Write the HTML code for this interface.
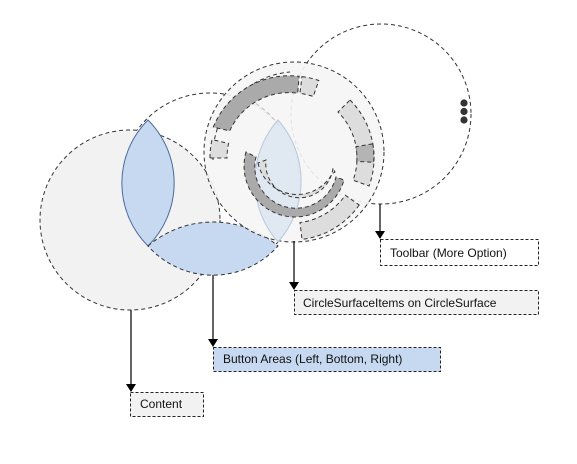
<!DOCTYPE html>
<html><head><meta charset="utf-8"><style>
body{margin:0;background:#fff;}
svg{display:block;}
text{font-family:"Liberation Sans","Noto Sans CJK KR",sans-serif;font-size:12px;fill:#111;}
</style></head><body>
<svg width="577" height="464" viewBox="0 0 577 464" xmlns="http://www.w3.org/2000/svg">
<g stroke="#333" stroke-width="1" stroke-dasharray="4,3">
<circle cx="381" cy="114" r="90" fill="#fff"/>
<circle cx="210" cy="183" r="90" fill="#fff"/>
<circle cx="130" cy="220" r="90" fill="#f2f2f2"/>
</g>
<path d="M148,120 A89,89 0 0 0 148,246 A89,89 0 0 0 148,120 Z" fill="#c6d9f0" stroke="#4a6a9a" stroke-width="1"/>
<path d="M148,246 A100,100 0 0 1 278,246 A87,87 0 0 1 148,246 Z" fill="#c6d9f0" stroke="#333" stroke-dasharray="4,3"/>
<circle cx="294" cy="152" r="90" fill="#f5f5f5" fill-opacity="0.9" stroke="#333" stroke-dasharray="4,3"/>
<path d="M213,160 A84,84 0 0 1 290,72" fill="none" stroke="#333" stroke-dasharray="4,3"/>
<path d="M250,100 A90,90 0 0 1 280,127" fill="none" stroke="#bbb" stroke-dasharray="4,3"/>
<path d="M278,120 A92,92 0 0 0 278,242 A92,92 0 0 0 278,120 Z" fill="#dce5f1" fill-opacity="0.85" stroke="#b9c8dc"/>
<g stroke="#333" stroke-dasharray="4,3">
<path d="M213.3,127.1 A82,82 0 0 1 299.1,76.3 L297.7,93.2 A65,65 0 0 0 229.7,130.9 Z" fill="#aaa"/>
<path d="M302.0,76.6 A82,82 0 0 1 318.8,80.5 L313.2,96.5 A65,65 0 0 0 299.9,93.4 Z" fill="#ddd"/>
<path d="M210,158 A82,82 0 0 1 212.0,139.6 L228.6,143.4 A65,65 0 0 0 227,158 Z" fill="#ddd"/>
<path d="M350.0,100.0 A82,82 0 0 1 369.1,186.0 L353.1,180.2 A65,65 0 0 0 338.0,112.0 Z" fill="#ddd"/>
<path d="M372.8,143.8 A82,82 0 0 1 373.7,162.3 L356.8,161.4 A65,65 0 0 0 356.0,146.7 Z" fill="#b4b4b4"/>
<path d="M359.2,205.0 A82,82 0 0 1 302.0,239.4 L300.0,222.5 A65,65 0 0 0 345.3,195.2 Z" fill="#ddd"/>
<path d="M246,152 A50,50 0 0 0 344,180 L336,177 A41,41 0 0 1 256,157 Z" fill="#aaa"/>
<path d="M258,163 A40,40 0 0 0 332,174 L335,172 L333,168 A31,31 0 0 1 266,160 Z" fill="#ddd"/>
</g>
<circle cx="464" cy="103" r="3.6" fill="#333"/>
<circle cx="464" cy="111.5" r="3.6" fill="#333"/>
<circle cx="464" cy="120" r="3.6" fill="#333"/>
<g stroke="#000" stroke-width="1.2">
<line x1="131" y1="310" x2="131" y2="385"/>
<line x1="213" y1="275" x2="213" y2="340"/>
<line x1="294" y1="241" x2="294" y2="283"/>
<line x1="380" y1="204" x2="380" y2="232"/>
</g>
<g fill="#000">
<path d="M126,384 L136,384 L131,392 Z"/>
<path d="M208,339 L218,339 L213,347 Z"/>
<path d="M289,282 L299,282 L294,290 Z"/>
<path d="M375,231 L385,231 L380,239 Z"/>
</g>
<g stroke="#222" stroke-dasharray="3,2">
<rect x="380.5" y="239.5" width="158" height="26" fill="#fff"/>
<rect x="294.5" y="290.5" width="244" height="24" fill="#f2f2f2"/>
<rect x="213.5" y="347.5" width="227" height="24" fill="#c6d9f0"/>
<rect x="130.5" y="392.5" width="73" height="24" fill="#f2f2f2"/>
</g>
<text x="390" y="257">Toolbar (More Option)</text>
<text x="303" y="307">CircleSurfaceItems  on CircleSurface</text>
<text x="223" y="363">Button Areas (Left, Bottom, Right)</text>
<text x="140" y="408">Content</text>
</svg>
</body></html>
